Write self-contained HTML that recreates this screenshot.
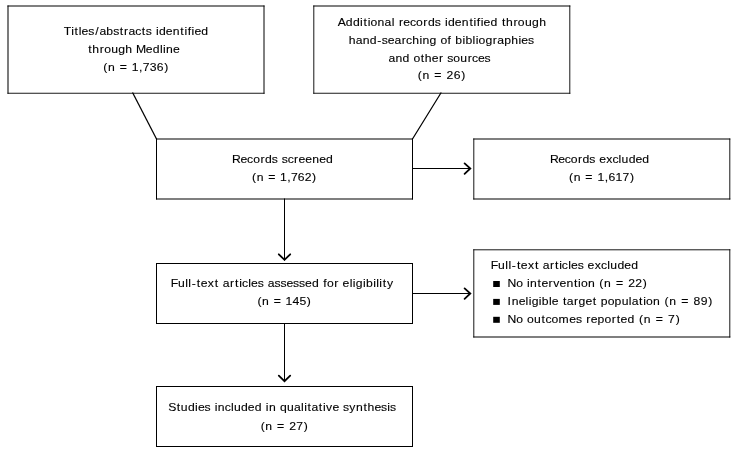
<!DOCTYPE html><html><head><meta charset="utf-8"><style>html,body{margin:0;padding:0;background:#fff;}body{width:737px;height:452px;overflow:hidden;}svg{display:block;filter:grayscale(1);}text{font-family:"Liberation Sans",sans-serif;fill:#000;stroke:#000;stroke-width:0.12px;white-space:pre;}</style></head><body>
<svg width="737" height="452" viewBox="0 0 737 452">
<g fill="none" stroke="#000" stroke-width="1" stroke-linecap="square">
<path d="M8.0 6.0 H264.0" stroke-width="1.04"/>
<path d="M8.0 93.25 H264.0" stroke-width="0.9"/>
<path d="M8.0 6.0 V93.25" stroke-width="1.04"/>
<path d="M264.0 6.0 V93.25" stroke-width="1.0"/>
<path d="M313.8 6.0 H569.8" stroke-width="1.04"/>
<path d="M313.8 93.25 H569.8" stroke-width="0.9"/>
<path d="M313.8 6.0 V93.25" stroke-width="0.92"/>
<path d="M569.8 6.0 V93.25" stroke-width="0.92"/>
<path d="M156.5 139.0 H412.5" stroke-width="1.04"/>
<path d="M156.5 199.0 H412.5" stroke-width="1.04"/>
<path d="M156.5 139.0 V199.0" stroke-width="1.0"/>
<path d="M412.5 139.0 V199.0" stroke-width="1.0"/>
<path d="M473.8 139.0 H729.8" stroke-width="1.04"/>
<path d="M473.8 199.0 H729.8" stroke-width="1.04"/>
<path d="M473.8 139.0 V199.0" stroke-width="0.92"/>
<path d="M729.8 139.0 V199.0" stroke-width="0.92"/>
<path d="M156.5 263.5 H412.5" stroke-width="1.0"/>
<path d="M156.5 323.5 H412.5" stroke-width="1.0"/>
<path d="M156.5 263.5 V323.5" stroke-width="1.0"/>
<path d="M412.5 263.5 V323.5" stroke-width="1.0"/>
<path d="M473.8 249.8 H729.8" stroke-width="0.92"/>
<path d="M473.8 337.0 H729.8" stroke-width="1.04"/>
<path d="M473.8 249.8 V337.0" stroke-width="0.92"/>
<path d="M729.8 249.8 V337.0" stroke-width="0.92"/>
<path d="M156.5 386.5 H412.5" stroke-width="1.0"/>
<path d="M156.5 446.5 H412.5" stroke-width="1.0"/>
<path d="M156.5 386.5 V446.5" stroke-width="1.0"/>
<path d="M412.5 386.5 V446.5" stroke-width="1.0"/>
<path d="M132.8 93 L156.5 139" stroke-width="1.25"/>
<path d="M440.9 93 L412.5 139" stroke-width="1.25"/>
<path d="M284.5 199 L284.5 260"/>
<path d="M284.5 323.5 L284.5 381"/>
<path d="M412.5 168.5 L470.5 168.5"/>
<path d="M412.5 293.5 L470.5 293.5"/>
</g>
<g fill="none" stroke="#000" stroke-width="1.8" stroke-linecap="round" stroke-linejoin="miter">
<path d="M278.8 254.3 L284.5 259.8 L290.2 254.3"/>
<path d="M278.8 375.7 L284.5 381.2 L290.2 375.7"/>
<path d="M464.6 163.4 L470.3 168.5 L464.6 173.8"/>
<path d="M464.6 288.4 L470.3 293.5 L464.6 298.8"/>
</g>
<rect x="493.2" y="281.0" width="6.60" height="6.00" fill="#000"/>
<rect x="493.2" y="298.9" width="6.60" height="6.00" fill="#000"/>
<rect x="493.2" y="316.8" width="6.60" height="6.00" fill="#000"/>
<text transform="scale(1.06,1)" x="60.05 67.12 70.37 74.28 76.95 83.26 89.80 93.80 100.35 106.81 113.02 117.09 121.27 127.61 133.82 137.40 143.39 147.07 149.90 156.42 163.00 170.15 174.05 177.07 180.76 183.43 189.96" y="35.00" font-size="11.5" xml:space="preserve">Titles/abstracts identified</text>
<text transform="scale(1.06,1)" x="83.23 87.07 94.05 98.25 104.87 111.57 118.28 125.18 128.28 137.60 144.11 150.87 153.80 156.67 163.23" y="53.00" font-size="11.5" xml:space="preserve">through Medline</text>
<text transform="scale(1.06,1)" x="97.44 101.82 108.55 112.88 120.74 124.28 131.09 134.70 141.32 147.95 154.91" y="70.90" font-size="11.5" xml:space="preserve">(n = 1,736)</text>
<text transform="scale(1.06,1)" x="318.62 326.27 332.94 339.72 342.96 346.87 349.60 356.23 362.84 369.50 372.52 376.36 380.51 386.82 392.52 399.37 403.67 410.12 416.11 419.79 422.61 429.13 435.71 442.85 446.75 449.77 453.45 456.13 462.65 469.52 473.51 477.35 484.34 488.55 495.19 501.91 508.63" y="26.10" font-size="11.5" xml:space="preserve">Additional records identified through</text>
<text transform="scale(1.06,1)" x="329.10 335.67 342.25 348.94 355.99 360.20 365.81 372.19 378.98 383.05 388.86 395.66 398.52 405.21 412.05 415.51 422.26 426.01 429.56 436.31 439.12 445.87 448.79 451.51 458.06 464.97 469.13 475.65 482.34 489.14 491.80 498.08" y="44.00" font-size="11.5" xml:space="preserve">hand-searching of bibliographies</text>
<text transform="scale(1.06,1)" x="366.44 373.01 379.70 386.53 390.00 396.97 400.80 407.35 414.11 418.59 421.92 427.60 434.20 441.17 445.23 450.85 457.13" y="61.70" font-size="11.5" xml:space="preserve">and other sources</text>
<text transform="scale(1.06,1)" x="394.16 398.58 405.39 409.77 417.72 421.29 427.99 435.03" y="79.40" font-size="11.5" xml:space="preserve">(n = 26)</text>
<text transform="scale(1.06,1)" x="218.90 226.79 233.11 238.82 245.68 249.97 256.43 262.43 265.78 271.36 277.43 281.58 287.96 294.55 301.13 307.65" y="163.30" font-size="11.5" xml:space="preserve">Records screened</text>
<text transform="scale(1.06,1)" x="237.82 242.12 248.75 253.01 260.75 264.23 270.94 274.49 281.01 287.53 294.39" y="181.20" font-size="11.5" xml:space="preserve">(n = 1,762)</text>
<text transform="scale(1.06,1)" x="518.80 526.61 532.85 538.49 545.28 549.52 555.91 561.83 565.22 571.84 577.73 583.57 586.41 593.06 599.51 605.96" y="163.10" font-size="11.5" xml:space="preserve">Records excluded</text>
<text transform="scale(1.06,1)" x="536.83 541.20 547.93 552.25 560.10 563.64 570.44 574.04 580.66 587.27 594.23" y="181.20" font-size="11.5" xml:space="preserve">(n = 1,617)</text>
<text transform="scale(1.06,1)" x="161.03 167.83 174.68 177.61 180.86 185.73 189.38 196.08 202.69 206.69 210.14 216.98 221.70 225.62 228.23 234.14 236.82 243.14 249.14 252.59 258.94 264.52 270.17 276.49 282.08 287.73 294.27 301.14 304.92 308.40 315.27 319.77 323.20 329.85 332.79 335.61 342.40 345.23 352.02 354.95 357.89 361.14 365.11" y="287.20" font-size="11.5" xml:space="preserve">Full-text articles assessed for eligibility</text>
<text transform="scale(1.06,1)" x="242.92 247.25 253.91 258.18 265.95 269.45 276.00 282.55 289.44" y="305.10" font-size="11.5" xml:space="preserve">(n = 145)</text>
<text transform="scale(1.06,1)" x="463.08 469.86 476.69 479.61 482.85 487.71 491.35 498.03 504.62 508.60 512.05 518.86 523.58 527.48 530.08 535.97 538.64 544.95 550.93 554.34 561.03 566.97 572.87 575.74 582.45 588.96 595.48" y="269.20" font-size="11.5" xml:space="preserve">Full-text articles excluded</text>
<text transform="scale(1.06,1)" x="478.78 486.93 493.64 497.28 500.12 507.19 510.80 517.52 521.94 527.90 534.41 541.48 545.34 548.04 554.61 561.46 565.40 569.84 576.69 581.09 589.08 592.68 599.41 606.49" y="287.30" font-size="11.5" xml:space="preserve">No intervention (n = 22)</text>
<text transform="scale(1.06,1)" x="478.79 482.75 489.28 495.87 498.79 501.59 508.32 511.12 517.85 520.51 527.18 531.15 534.80 541.57 545.84 552.32 559.22 563.18 566.72 573.26 579.79 586.47 593.25 595.94 602.86 606.74 609.45 616.04 622.92 626.87 631.34 638.21 642.62 650.64 654.25 661.01 668.12" y="305.30" font-size="11.5" xml:space="preserve">Ineligible target population (n = 89)</text>
<text transform="scale(1.06,1)" x="478.78 486.99 493.75 497.22 503.83 510.96 514.52 520.21 527.00 537.01 543.30 549.27 553.10 557.23 563.74 570.30 577.13 581.84 585.47 591.97 598.82 602.79 607.27 614.17 618.60 626.65 630.28 637.41" y="323.20" font-size="11.5" xml:space="preserve">No outcomes reported (n = 7)</text>
<text transform="scale(1.06,1)" x="158.74 166.78 170.60 177.29 184.04 186.70 192.98 198.94 202.60 205.46 211.94 217.81 220.67 227.35 233.85 240.34 247.17 250.83 253.69 260.58 264.13 270.82 277.39 284.02 286.93 290.16 293.82 300.76 304.64 307.62 313.61 320.30 323.64 329.57 335.76 342.87 346.69 353.24 359.52 365.39 367.98" y="411.20" font-size="11.5" xml:space="preserve">Studies included in qualitative synthesis</text>
<text transform="scale(1.06,1)" x="245.88 250.29 257.07 261.43 269.35 272.92 279.59 286.61" y="429.60" font-size="11.5" xml:space="preserve">(n = 27)</text>
</svg></body></html>
